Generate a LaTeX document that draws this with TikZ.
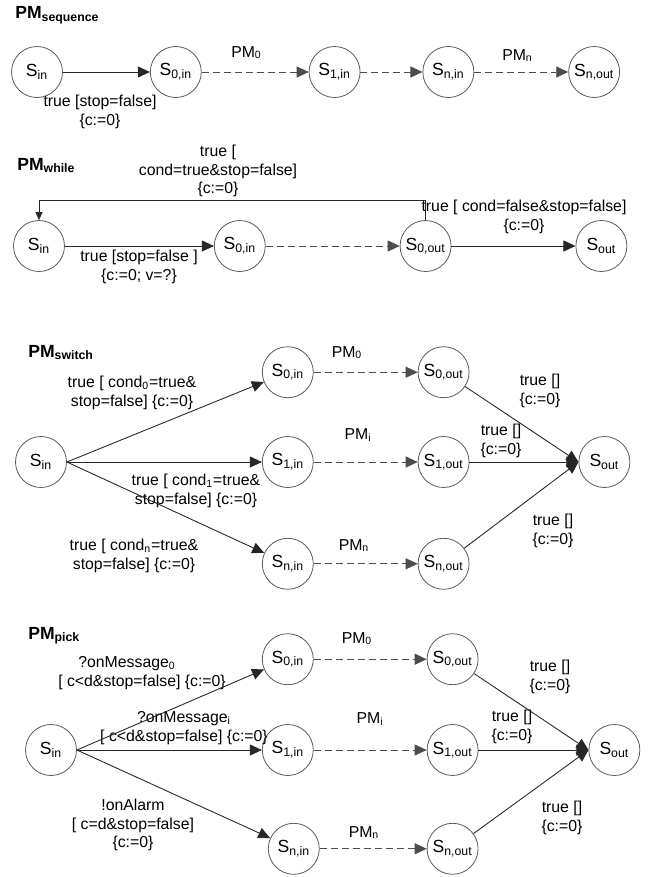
\documentclass[tikz,border=0pt]{standalone}
\usepackage{fontspec}
\setmainfont{Liberation Sans}
\usetikzlibrary{arrows.meta, positioning}

\newcommand{\stname}[1]{S\textsubscript{#1}}
\newcommand{\pmname}[1]{PM\textsubscript{#1}}

\begin{document}
\begin{tikzpicture}[
        state/.style={circle, draw=black!65, line width=0.45pt, minimum size=1.02cm, inner sep=0pt, font=\fontsize{10}{12}\selectfont},
        lbl/.style={align=center, inner sep=0pt, font=\fontsize{9}{10.5}\selectfont},
        pmlbl/.style={anchor=base, inner sep=0pt, font=\fontsize{9}{10.5}\selectfont},
        heading/.style={anchor=base west, inner sep=0pt, font=\fontsize{10}{12}\selectfont\bfseries},
        arrow/.style={line width=0.5pt, draw=black!85, -{Triangle[length=0.24cm, width=0.22cm]}},
        dasharrow/.style={arrow, draw=black!70, dash pattern=on 0.14cm off 0.08cm},
        loopback/.style={line width=0.5pt, draw=black!85, -{Triangle[length=0.16cm, width=0.14cm]}}
    ]
        \useasboundingbox (0,0) rectangle (13.02,-17.54);

        % sequence
        \node [heading] (tseq) at (0.3,-0.37) {\pmname{sequence}};
        \node [state] (seqin) at (0.74,-1.44) {\stname{in}};
        \node [state, right=1.74cm of seqin] (seq0in) {\stname{0,in}};
        \node [state, right=2.14cm of seq0in] (seq1in) {\stname{1,in}};
        \node [state, right=1.24cm of seq1in] (seqnin) {\stname{n,in}};
        \node [state, right=1.88cm of seqnin] (seqnout) {\stname{n,out}};

        \node [lbl] (seqc) at (2.0,-2.24) {true [stop=false]\\\{c:=0\}};
        \node [pmlbl] (seqpm0) at (4.93,-1.14) {\pmname{0}};
        \node [pmlbl] (seqpmn) at (10.35,-1.2) {\pmname{n}};

        \draw [arrow] (seqin) -- (seq0in);
        \draw [dasharrow] (seq0in) -- (seq1in);
        \draw [dasharrow] (seq1in) -- (seqnin);
        \draw [dasharrow] (seqnin) -- (seqnout);

        % while
        \node [heading] (twh) at (0.34,-3.4) {\pmname{while}};
        \node [state] (whin) at (0.78,-4.92) {\stname{in}};
        \node [state, right=2.98cm of whin] (wh0in) {\stname{0,in}};
        \node [state, right=2.68cm of wh0in] (wh0out) {\stname{0,out}};
        \node [state, right=2.48cm of wh0out] (whout) {\stname{out}};

        \node [lbl] (whloop) at (4.36,-3.42) {true [\\cond=true\&stop=false]\\\{c:=0\}};
        \node [lbl] (whexit) at (10.48,-4.34) {true [ cond=false\&stop=false]\\\{c:=0\}};
        \node [lbl] (whenter) at (2.78,-5.34) {true [stop=false ]\\\{c:=0; v=?\}};

        \draw [arrow] (whin) -- (wh0in);
        \draw [dasharrow] (wh0in) -- (wh0out);
        \draw [arrow] (wh0out) -- (whout);
        \draw [loopback] (wh0out.north) -- ++(0,0.4) -| (whin.north);

        % switch
        \node [heading] (tsw) at (0.56,-7.14) {\pmname{switch}};
        \node [state] (swin) at (0.82,-9.24) {\stname{in}};
        \node [state, right=3.9cm of swin] (sw1in) {\stname{1,in}};
        \node [state, above=0.76cm of sw1in] (sw0in) {\stname{0,in}};
        \node [state, below=1.0cm of sw1in] (swnin) {\stname{n,in}};
        \node [state, right=2.08cm of sw0in] (sw0out) {\stname{0,out}};
        \node [state, right=2.08cm of sw1in] (sw1out) {\stname{1,out}};
        \node [state, right=2.08cm of swnin] (swnout) {\stname{n,out}};
        \node [state, right=2.18cm of sw1out] (swout) {\stname{out}};

        \node [lbl] (swc0) at (2.64,-7.86) {true [ cond\textsubscript{0}=true\&\\stop=false] \{c:=0\}};
        \node [lbl] (swc1) at (3.92,-9.82) {true [ cond\textsubscript{1}=true\&\\stop=false] \{c:=0\}};
        \node [lbl] (swcn) at (2.68,-11.12) {true [ cond\textsubscript{n}=true\&\\stop=false] \{c:=0\}};
        \node [pmlbl] (swpm0) at (6.94,-7.14) {\pmname{0}};
        \node [pmlbl] (swpmi) at (7.16,-8.78) {\pmname{i}};
        \node [pmlbl] (swpmn) at (7.08,-11.0) {\pmname{n}};
        \node [lbl] (swt0) at (10.8,-7.82) {true []\\\{c:=0\}};
        \node [lbl] (swt1) at (10.02,-8.82) {true []\\\{c:=0\}};
        \node [lbl] (swtn) at (11.06,-10.62) {true []\\\{c:=0\}};

        \draw [arrow] (swin.east) -- (sw0in);
        \draw [arrow] (swin.east) -- (sw1in);
        \draw [arrow] (swin.east) -- (swnin);
        \draw [dasharrow] (sw0in) -- (sw0out);
        \draw [dasharrow] (sw1in) -- (sw1out);
        \draw [dasharrow] (swnin) -- (swnout);
        \draw [arrow] (sw0out) -- (swout.west);
        \draw [arrow] (sw1out) -- (swout.west);
        \draw [arrow] (swnout) -- (swout.west);

        % pick
        \node [heading] (tpk) at (0.56,-12.78) {\pmname{pick}};
        \node [state] (pkin) at (1.02,-15.0) {\stname{in}};
        \node [state, right=3.7cm of pkin] (pk1in) {\stname{1,in}};
        \node [state, above=0.78cm of pk1in] (pk0in) {\stname{0,in}};
        \node [state, below=0.94cm of pk1in, xshift=0.12cm] (pknin) {\stname{n,in}};
        \node [state, right=2.26cm of pk0in] (pk0out) {\stname{0,out}};
        \node [state, right=2.26cm of pk1in] (pk1out) {\stname{1,out}};
        \node [state, right=2.14cm of pknin] (pknout) {\stname{n,out}};
        \node [state, right=2.2cm of pk1out] (pkout) {\stname{out}};

        \node [lbl] (pkm0) at (2.84,-13.46) {?onMessage\textsubscript{0}\rule{0.6cm}{0pt}\\{[} c<d\&stop=false] \{c:=0\}};
        \node [lbl] (pkmi) at (3.68,-14.56) {?onMessage\textsubscript{i}\\{[} c<d\&stop=false] \{c:=0\}};
        \node [lbl] (pkal) at (2.66,-16.5) {!onAlarm\\{[} c=d\&stop=false]\\\{c:=0\}};
        \node [pmlbl] (pkpm0) at (7.14,-12.86) {\pmname{0}};
        \node [pmlbl] (pkpmi) at (7.4,-14.46) {\pmname{i}};
        \node [pmlbl] (pkpmn) at (7.28,-16.74) {\pmname{n}};
        \node [lbl] (pkt0) at (11.0,-13.54) {true []\\\{c:=0\}};
        \node [lbl] (pkt1) at (10.24,-14.54) {true []\\\{c:=0\}};
        \node [lbl] (pktn) at (11.24,-16.36) {true []\\\{c:=0\}};

        \draw [arrow] (pkin.east) -- (pk0in);
        \draw [arrow] (pkin.east) -- (pk1in);
        \draw [arrow] (pkin.east) -- (pknin);
        \draw [dasharrow] (pk0in) -- (pk0out);
        \draw [dasharrow] (pk1in) -- (pk1out);
        \draw [dasharrow] (pknin) -- (pknout);
        \draw [arrow] (pk0out) -- (pkout.west);
        \draw [arrow] (pk1out) -- (pkout.west);
        \draw [arrow] (pknout) -- (pkout.west);
    \end{tikzpicture}
\end{document}
